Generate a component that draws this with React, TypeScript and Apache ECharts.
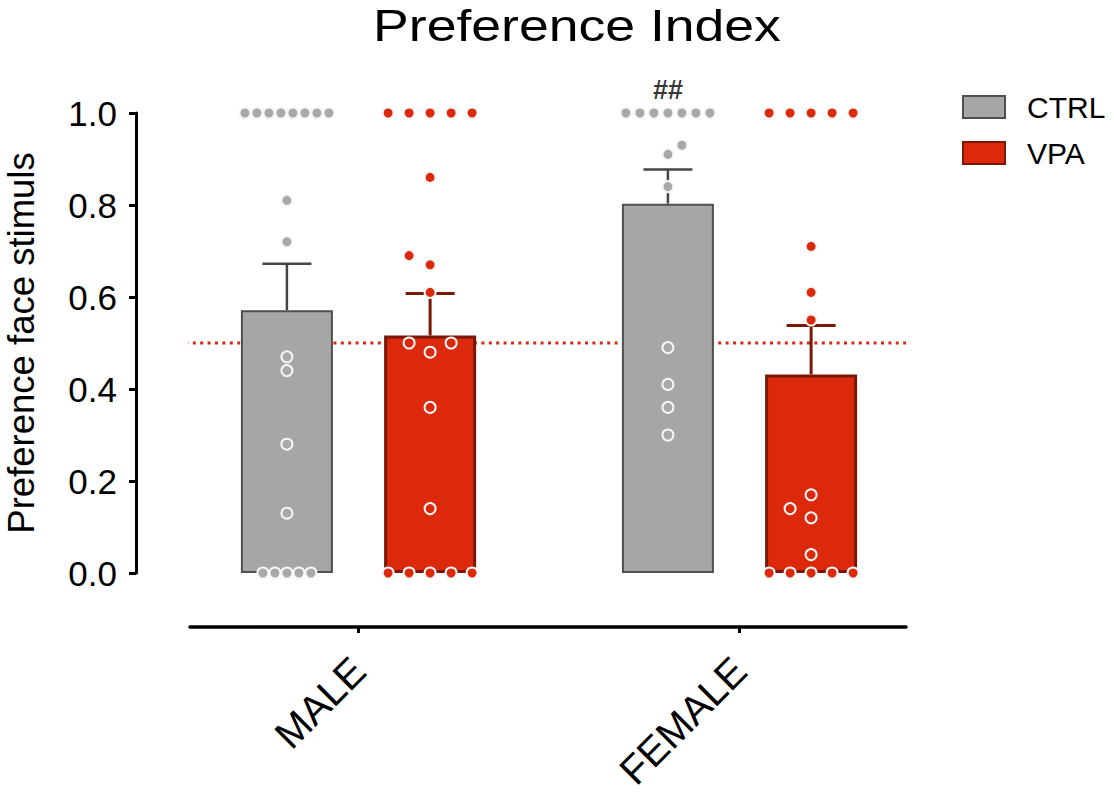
import React, { useEffect, useRef } from "react";
import * as echarts from "echarts";

// ---------- data ----------
const groups = ["MALE", "FEMALE"];
const seriesNames = ["CTRL", "VPA"];

const maleCtrl = [1, 1, 1, 1, 1, 1, 1, 1, 0.81, 0.72, 0.47, 0.44, 0.28, 0.13, 0, 0, 0, 0, 0];
const maleCtrlSlots = [-3.5, -2.5, -1.5, -0.5, 0.5, 1.5, 2.5, 3.5, 0, 0, 0, 0, 0, 0, -2, -1, 0, 1, 2];

const maleVpa = [1, 1, 1, 1, 1, 0.86, 0.69, 0.67, 0.61, 0.5, 0.48, 0.5, 0.36, 0.14, 0, 0, 0, 0, 0];
const maleVpaSlots = [-2, -1, 0, 1, 2, 0, -1, 0, 0, -1, 0, 1, 0, 0, -2, -1, 0, 1, 2];

const femaleCtrl = [1, 1, 1, 1, 1, 1, 1, 0.93, 0.91, 0.84, 0.49, 0.41, 0.36, 0.3];
const femaleCtrlSlots = [-3, -2, -1, 0, 1, 2, 3, 1, 0, 0, 0, 0, 0, 0];

const femaleVpa = [1, 1, 1, 1, 1, 0.71, 0.61, 0.55, 0.17, 0.14, 0.12, 0.04, 0, 0, 0, 0, 0];
const femaleVpaSlots = [-2, -1, 0, 1, 2, 0, 0, 0, 0, -1, 0, 0, -2, -1, 0, 1, 2];

const chanceLevel = 0.5;
const annotations = [{ group: 1, series: 0, text: "##" }];

// ---------- layout / style ----------
const FONT = "'Liberation Sans', Arial, Helvetica, sans-serif";
const GRID_LEFT = 190;
const GRID_RIGHT_EDGE = 906;
const GRID_TOP = 113;
const GRID_BOTTOM_EDGE = 573;
const X_MIN = -0.4423;
const X_MAX = 1.437;
const PX_PER_UNIT = (GRID_RIGHT_EDGE - GRID_LEFT) / (X_MAX - X_MIN);
const BAR_OFFSET_PX = 71.6;
const BAR_WIDTH = 92;
const ROW_HALF_SPAN_PX = 42;
const MAX_DOT_SPACING_PX = 21;
const AXIS_OFFSET = 54;

const barFill = ["#a6a6a6", "#dc290b"];
const barBorder = ["#4f4f4f", "#7b1707"];
const barBorderWidth = [2, 3];
const dotFill = ["#a8a8a8", "#dc290b"];
const errColor = ["#454545", "#7b1707"];
const errWidth = [2.5, 3];

const points = [
  [maleCtrl, femaleCtrl],
  [maleVpa, femaleVpa],
];
const slots = [
  [maleCtrlSlots, femaleCtrlSlots],
  [maleVpaSlots, femaleVpaSlots],
];

function mean(a: number[]) {
  return a.reduce((s, v) => s + v, 0) / a.length;
}
function sem(a: number[]) {
  const m = mean(a);
  const v = a.reduce((s, x) => s + (x - m) * (x - m), 0) / (a.length - 1);
  return Math.sqrt(v) / Math.sqrt(a.length);
}

function barX(gi: number, si: number) {
  return gi + ((si === 0 ? -1 : 1) * BAR_OFFSET_PX) / PX_PER_UNIT;
}

function buildOption() {
  const series: any[] = [];

  // chance line (behind bars)
  const lineStartX = X_MIN - (AXIS_OFFSET - 5) / PX_PER_UNIT;
  series.push({
    name: "chance",
    type: "line",
    data: [
      [lineStartX, chanceLevel],
      [X_MAX, chanceLevel],
    ],
    symbol: "none",
    clip: false,
    silent: true,
    z: 1,
    lineStyle: { color: "#d42a12", width: 3, type: [3, 4.4] },
  });

  // bars
  seriesNames.forEach((name, si) => {
    series.push({
      name,
      type: "bar",
      barWidth: BAR_WIDTH,
      barGap: "-100%",
      z: 3,
      data: groups.map((_, gi) => [barX(gi, si), mean(points[si][gi])]),
      itemStyle: {
        color: barFill[si],
        borderColor: barBorder[si],
        borderWidth: barBorderWidth[si],
      },
    });
  });

  // error bars (mean + SEM)
  seriesNames.forEach((name, si) => {
    series.push({
      name: name + " SEM",
      type: "custom",
      z: 2,
      silent: true,
      data: groups.map((_, gi) => {
        const m = mean(points[si][gi]);
        return [barX(gi, si), m, m + sem(points[si][gi])];
      }),
      encode: { x: 0, y: [1, 2] },
      renderItem: (params: any, api: any) => {
        const x = api.value(0);
        const p0 = api.coord([x, api.value(1)]);
        const p1 = api.coord([x, api.value(2)]);
        const half = 24.5;
        const style = { stroke: errColor[si], lineWidth: errWidth[si] };
        return {
          type: "group",
          children: [
            { type: "line", shape: { x1: p0[0], y1: p0[1], x2: p1[0], y2: p1[1] }, style },
            { type: "line", shape: { x1: p1[0] - half, y1: p1[1], x2: p1[0] + half, y2: p1[1] }, style },
          ],
        };
      },
    });
  });

  // individual points
  seriesNames.forEach((name, si) => {
    groups.forEach((g, gi) => {
      const vals = points[si][gi];
      const sl = slots[si][gi];
      const maxSlot = Math.max(...sl.map((s) => Math.abs(s)));
      const spacingPx = Math.min(MAX_DOT_SPACING_PX, ROW_HALF_SPAN_PX / maxSlot);
      series.push({
        name: name + " " + g + " points",
        type: "scatter",
        z: 5,
        symbol: "circle",
        symbolSize: 11,
        itemStyle: {
          color: dotFill[si],
          borderColor: "#f6f6f6",
          borderWidth: 2,
          opacity: 1,
        },
        data: vals.map((v, i) => [barX(gi, si) + (sl[i] * spacingPx) / PX_PER_UNIT, v]),
      });
    });
  });

  // annotations
  series.push({
    name: "annotations",
    type: "scatter",
    z: 6,
    symbolSize: 0,
    silent: true,
    data: annotations.map((a) => ({
      value: [barX(a.group, a.series), 1],
      label: {
        show: true,
        formatter: a.text,
        position: "top",
        distance: 10,
        fontSize: 27,
        fontWeight: "bold",
        fontFamily: FONT,
        color: "#000",
      },
    })),
  });

  return {
    animation: false,
    backgroundColor: "#ffffff",
    textStyle: { fontFamily: FONT },
    graphic: [
      {
        type: "text",
        x: 577,
        y: 3,
        scaleX: 1.19,
        style: {
          text: "Preference Index",
          fontSize: 45,
          fontFamily: FONT,
          fill: "#000",
          align: "center",
          verticalAlign: "top",
        },
      },
    ],
    legend: {
      data: seriesNames,
      left: 962,
      top: 92,
      orient: "vertical",
      padding: 0,
      itemWidth: 42,
      itemHeight: 22,
      itemGap: 16,
      icon: "rect",
      textStyle: { fontSize: 30, color: "#000", fontFamily: FONT, padding: [0, 0, 0, 17] },
    },
    grid: {
      left: GRID_LEFT,
      right: 1114 - GRID_RIGHT_EDGE,
      top: GRID_TOP,
      bottom: 794 - GRID_BOTTOM_EDGE,
      containLabel: false,
      outerBoundsMode: "none",
    },
    xAxis: {
      type: "value",
      min: X_MIN,
      max: X_MAX,
      offset: AXIS_OFFSET,
      splitLine: { show: false },
      axisLine: { show: true, onZero: false, lineStyle: { color: "#000", width: 3.5 } },
      axisTick: { show: true, customValues: [0, 1], length: 6, lineStyle: { color: "#000", width: 3 } },
      axisLabel: {
        customValues: [0, 1],
        formatter: (v: number) => groups[Math.round(v)] ?? "",
        rotate: 45,
        fontSize: 40,
        margin: 37,
        color: "#000",
        fontFamily: FONT,
      },
    },
    yAxis: {
      type: "value",
      min: 0,
      max: 1,
      interval: 0.2,
      offset: AXIS_OFFSET,
      splitLine: { show: false },
      axisLine: { show: true, onZero: false, lineStyle: { color: "#000", width: 3 } },
      axisTick: { show: true, length: 7, lineStyle: { color: "#000", width: 3 } },
      axisLabel: {
        formatter: (v: number) => v.toFixed(1),
        fontSize: 35,
        margin: 19,
        color: "#000",
        fontFamily: FONT,
      },
      name: "Preference face stimuls",
      nameLocation: "middle",
      nameGap: 96,
      nameRotate: 90,
      nameTextStyle: { fontSize: 36.5, color: "#000", fontFamily: FONT },
    },
    series,
  };
}

export default function App() {
  const ref = useRef<HTMLDivElement>(null);
  useEffect(() => {
    if (!ref.current) return;
    const chart = echarts.init(ref.current, undefined, { renderer: "svg" });
    chart.setOption(buildOption() as any);
    return () => chart.dispose();
  }, []);
  return (
    <div
      ref={ref}
      style={{ position: "absolute", left: 0, top: 0, width: 1114, height: 794, background: "#fff" }}
    />
  );
}
